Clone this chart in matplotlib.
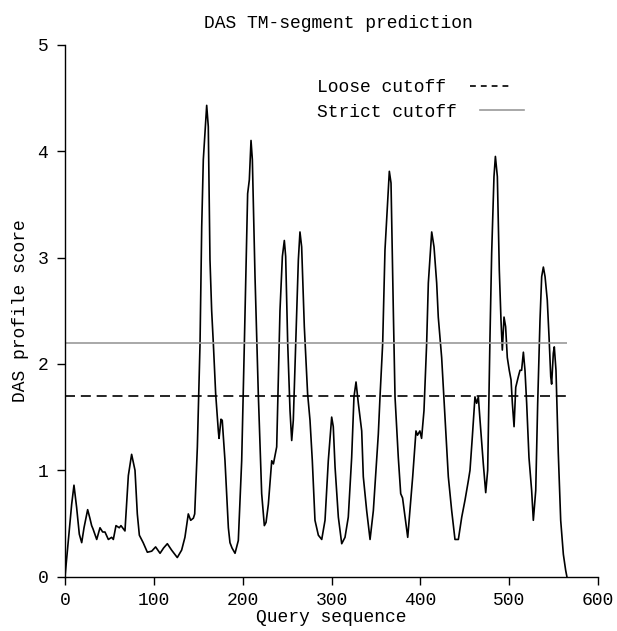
import matplotlib
matplotlib.use('Agg')
import matplotlib.pyplot as plt
from matplotlib.lines import Line2D

# DAS profile: posição na sequência e pontuação
posicao = [0, 3.7, 7.5, 10.1, 13.1, 16.1, 18.8, 21.4, 25.5, 28, 30, 31.5, 35.7, 39.4, 42.4, 45,
           48.8, 52.5, 54.4, 57.4, 61.1, 63, 67.5, 71.3, 75, 78.8, 81.4, 83.7, 88, 92.7, 97.6,
           102, 107, 111, 115.2, 120, 126.4, 131.3, 135, 138.8, 141.5, 144.5, 146, 149, 151,
           152, 153.9, 155.7, 159.5, 161.3, 163.2, 165.1, 167, 169.6, 172.6, 173.4, 175.6, 177,
           180.1, 183.9, 185.7, 188, 191.4, 195.1, 198.9, 201.9, 205.6, 207.5, 209.4, 210.9,
           213.9, 217.6, 221.4, 224.4, 226.3, 228.9, 232.7, 234.6, 238.3, 242, 244.7, 246.9,
           248.4, 250.7, 253.3, 255.2, 257, 259.7, 262.7, 264.5, 266.4, 269.4, 273.1, 275.8,
           278.4, 281.4, 285.2, 289, 292.7, 296.4, 300.2, 302, 304, 307.7, 311.5, 315.2, 318.9,
           322.7, 325.3, 327.6, 330.2, 334, 335.8, 339.6, 343.4, 347.1, 352.7, 354.6, 357.6,
           360.2, 365.1, 367, 369.6, 371.5, 375.2, 377.9, 380, 385.8, 391.4, 395.1, 396.8,
           399.5, 401.4, 404.1, 407.1, 409, 412.8, 415.4, 418.4, 420.2, 424, 427.8, 431.5,
           435.3, 439, 442.8, 446.6, 450.3, 454, 455.9, 458.5, 461.5, 463.4, 465.3, 467.2,
           470.9, 473.6, 475.8, 478.4, 480.3, 482.9, 484.5, 486.7, 488.9, 490.8, 492.3, 494.2,
           496, 497.9, 500.1, 502.1, 503.6, 505.5, 507.4, 510.3, 512.2, 514, 516, 517.8, 519.7,
           522.3, 525.3, 527.2, 529.9, 532.1, 534.7, 536.6, 538.5, 540.4, 542.9, 544.9, 546.8,
           547.8, 549.7, 550.8, 552.7, 555.3, 558, 561, 563.6, 565]
score = [0.0, 0.34, 0.68, 0.86, 0.65, 0.40, 0.32, 0.46, 0.63, 0.55, 0.48, 0.45, 0.35, 0.46, 0.42, 0.42,
         0.35, 0.37, 0.35, 0.48, 0.46, 0.48, 0.43, 0.95, 1.15, 1.00, 0.59, 0.39, 0.32, 0.23, 0.24,
         0.28, 0.22, 0.27, 0.31, 0.25, 0.18, 0.25, 0.37, 0.59, 0.53, 0.55, 0.59, 1.22, 1.85,
         2.19, 3.29, 3.92, 4.43, 4.23, 2.98, 2.50, 2.19, 1.72, 1.37, 1.30, 1.48, 1.47,
         1.09, 0.46, 0.32, 0.27, 0.22, 0.34, 1.09, 2.19, 3.60, 3.73, 4.10, 3.92,
         2.82, 1.72, 0.78, 0.48, 0.51, 0.68, 1.09, 1.06, 1.22, 2.50, 3.01, 3.16,
         3.01, 2.19, 1.56, 1.28, 1.47, 2.19, 2.98, 3.24, 3.10, 2.35, 1.72, 1.47,
         1.09, 0.53, 0.39, 0.35, 0.53, 1.09, 1.50, 1.41, 1.03, 0.56, 0.31, 0.37, 0.56,
         1.12, 1.69, 1.83, 1.63, 1.37, 0.94, 0.62, 0.35, 0.62, 1.34, 1.69, 2.19,
         3.07, 3.81, 3.70, 2.50, 1.69, 1.12, 0.78, 0.74, 0.37, 0.94, 1.37, 1.33,
         1.37, 1.30, 1.56, 2.19, 2.76, 3.24, 3.10, 2.76, 2.44, 2.06, 1.50, 0.94,
         0.62, 0.35, 0.35, 0.56, 0.72, 0.90, 1.00, 1.31, 1.69, 1.63, 1.69, 1.47,
         1.06, 0.79, 1.00, 2.25, 3.04, 3.76, 3.95, 3.76, 2.88, 2.41, 2.13, 2.44,
         2.35, 2.06, 1.94, 1.85, 1.63, 1.41, 1.78, 1.88, 1.94, 1.94, 2.11, 1.94, 1.63,
         1.12, 0.81, 0.53, 0.81, 1.63, 2.41, 2.82, 2.91, 2.82, 2.60, 2.25, 1.88,
         1.81, 2.10, 2.16, 1.94, 1.16, 0.53, 0.21, 0.06, 0.0]

corte_loose = 1.7
corte_strict = 2.2
comprimento = 565

plt.rcParams['font.family'] = ['Liberation Mono', 'DejaVu Sans Mono']
plt.rcParams['font.size'] = 13

fig = plt.figure(figsize=(6.17, 6.31), dpi=100)
ax = fig.add_axes([65 / 617, 1 - 576.7 / 631, 533 / 617, 532 / 631])

ax.plot(posicao, score, color='black', lw=1.2)
ax.hlines(corte_loose, 0, comprimento, colors='black', lw=1.2, linestyles=(0, (6, 3.5)))
ax.hlines(corte_strict, 0, comprimento, colors='#9a9a9a', lw=1.2)

ax.set_xlim(0, 600)
ax.set_ylim(0, 5)
ax.set_xticks(range(0, 601, 100))
ax.set_yticks(range(0, 6))
for s in ['top', 'right']:
    ax.spines[s].set_visible(False)
for s in ['left', 'bottom']:
    ax.spines[s].set_linewidth(1.0)
ax.tick_params(direction='out', length=6, width=1.0, pad=5)
ax.tick_params(axis='y', pad=6)

ax.set_title('DAS TM-segment prediction', x=0.512, pad=12, fontsize=13)
ax.set_xlabel('Query sequence', labelpad=0)
ax.set_ylabel('DAS profile score', labelpad=6)

# legenda: texto primeiro, amostra da linha depois (uma legenda por linha)
opcoes = dict(loc='center left', frameon=False, markerfirst=False, handlelength=2.4,
              handletextpad=1.3, borderpad=0, borderaxespad=0)
leg1 = ax.legend([Line2D([], [], color='black', lw=1.2, linestyle=(0, (3.5, 3)))],
                 ['Loose cutoff'], bbox_to_anchor=(0.473, 0.919), **opcoes)
ax.add_artist(leg1)
ax.legend([Line2D([], [], color='#9a9a9a', lw=1.2)],
          ['Strict cutoff'], bbox_to_anchor=(0.473, 0.873), **opcoes)

fig.savefig('out.png', dpi=100)
